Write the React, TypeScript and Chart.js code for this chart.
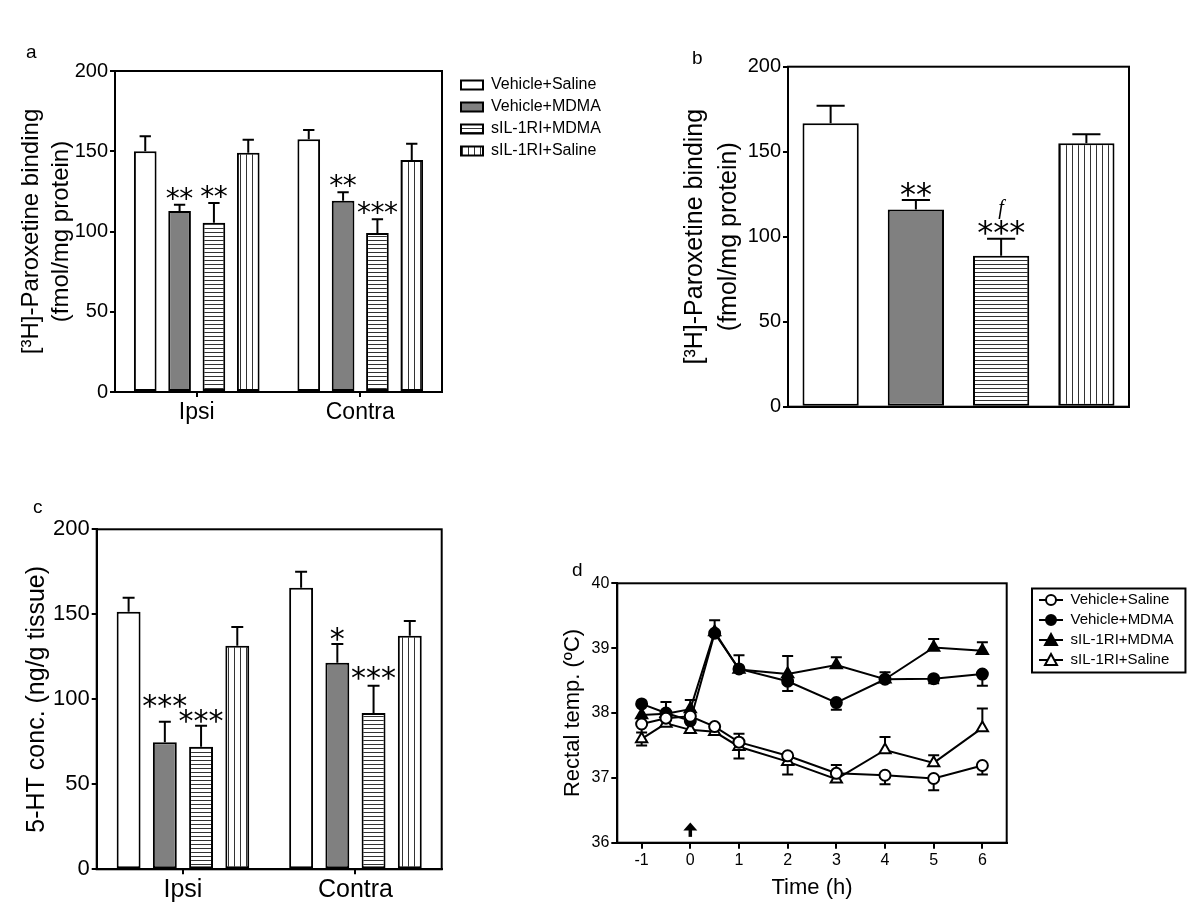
import React, { useEffect, useRef } from 'react';
import { Chart, registerables } from 'chart.js';

Chart.register(...registerables);

const SANS = "'Liberation Sans', Arial, Helvetica, sans-serif";
const STAR_FONT = "'DejaVu Sans', sans-serif";

// ---------------- data ----------------
const groupLabels = ['Vehicle+Saline', 'Vehicle+MDMA', 'sIL-1RI+MDMA', 'sIL-1RI+Saline'];
const regionLabels = ['Ipsi', 'Contra'];

// panel a: [3H]-paroxetine binding by region
const aVehSal = [150, 157.4];
const aVehSalErr = [9.3, 5.8];
const aVehMdma = [112.8, 119.2];
const aVehMdmaErr = [3.9, 5.2];
const aSilMdma = [105.5, 99];
const aSilMdmaErr = [12.3, 8.6];
const aSilSal = [149, 144.5];
const aSilSalErr = [8.2, 10.2];
const aVehMdmaSig = ['**', '**'];
const aSilMdmaSig = ['**', '***'];

// panel b: [3H]-paroxetine binding, per group
const bValues = [166.7, 116, 88.8, 155];
const bErr = [10.3, 5.6, 10, 5.2];
const bSig = ['', '**', '***', ''];
const bSig2 = ['', '', 'f', ''];

// panel c: 5-HT concentration
const cVehSal = [151.5, 165.6];
const cVehSalErr = [8.3, 9.4];
const cVehMdma = [74.7, 121.5];
const cVehMdmaErr = [12.1, 11];
const cSilMdma = [72.1, 92];
const cSilMdmaErr = [12.4, 16];
const cSilSal = [131.5, 137.4];
const cSilSalErr = [11, 8.6];
const cVehMdmaSig = ['***', '*'];
const cSilMdmaSig = ['***', '***'];

// panel d: rectal temperature (signed error: + drawn up, - drawn down)
const timeH = [-1, -0.5, 0, 0.5, 1, 2, 3, 4, 5, 6];
const timeTicks = [-1, 0, 1, 2, 3, 4, 5, 6];
const dosingTime = 0;
const dVehSal = [37.83, 37.92, 37.95, 37.79, 37.55, 37.34, 37.07, 37.04, 36.99, 37.19];
const dVehSalErr = [-0.13, 0, 0, 0, 0.13, 0, 0.13, -0.14, -0.18, -0.14];
const dVehMdma = [38.14, 38.0, 37.88, 39.23, 38.68, 38.49, 38.16, 38.52, 38.53, 38.6];
const dVehMdmaErr = [0, 0, 0, 0, 0, -0.15, -0.11, 0, -0.07, -0.18];
const dSilMdma = [37.97, 37.99, 38.06, 39.25, 38.67, 38.6, 38.74, 38.52, 39.01, 38.96];
const dSilMdmaErr = [0, 0.18, 0.14, 0.18, 0.22, 0.28, 0.12, 0.11, 0.13, 0.13];
const dSilSal = [37.6, 37.84, 37.74, 37.71, 37.48, 37.25, 36.98, 37.43, 37.23, 37.77];
const dSilSalErr = [-0.1, 0, 0, 0, -0.18, -0.2, 0, 0.2, 0.12, 0.3];

// ---------------- helpers ----------------
function makePattern(kind: 'h' | 'v', period: number) {
  const c = document.createElement('canvas');
  const g = c.getContext('2d')!;
  if (kind === 'h') {
    c.width = 8; c.height = period;
    g.fillStyle = '#fff'; g.fillRect(0, 0, 8, period);
    g.fillStyle = '#333'; g.fillRect(0, 0, 8, 1);
  } else {
    c.width = period; c.height = 8;
    g.fillStyle = '#fff'; g.fillRect(0, 0, period, 8);
    g.fillStyle = '#333'; g.fillRect(0, 0, 1, 8);
  }
  return g.createPattern(c, 'repeat')!;
}

const framePlugin = {
  id: 'frame',
  afterDraw(chart: any) {
    const { ctx, chartArea } = chart;
    const { left, top, right, bottom } = chartArea;
    ctx.save();
    ctx.strokeStyle = '#000';
    ctx.lineWidth = 2;
    ctx.strokeRect(left, top, right - left, bottom - top);
    ctx.restore();
  },
};

// moves the legend box after layout, and widens its clip area so no label is cut
function legendShift(dx: number, dy: number) {
  return {
    id: 'legendShift',
    afterLayout(chart: any) {
      const lg = chart.legend;
      if (!lg) return;
      lg.left += dx; lg.right += dx + 120; lg.width += 120;
      lg.top += dy; lg.bottom += dy;
    },
  };
}

function drawStars(ctx: CanvasRenderingContext2D, text: string, cx: number, cy: number, size: number, gap: number) {
  ctx.save();
  ctx.fillStyle = '#000';
  ctx.font = `${size}px ${STAR_FONT}`;
  ctx.textAlign = 'center';
  ctx.textBaseline = 'middle';
  const n = text.length;
  for (let k = 0; k < n; k++) {
    ctx.fillText(text[k], cx + (k - (n - 1) / 2) * gap, cy + size * 0.2);
  }
  ctx.restore();
}

function barErrorPlugin(starSize: number, starGap: number) {
  return {
    id: 'barErrors',
    afterDatasetsDraw(chart: any) {
      const { ctx } = chart;
      const y = chart.scales.y;
      chart.data.datasets.forEach((ds: any, di: number) => {
        const meta = chart.getDatasetMeta(di);
        meta.data.forEach((bar: any, i: number) => {
          const v = ds.data[i];
          const e = ds.errors ? ds.errors[i] : 0;
          const yEnd = y.getPixelForValue(v + e);
          const w = bar.width * 0.5;
          ctx.save();
          ctx.strokeStyle = '#000';
          ctx.lineWidth = 2;
          ctx.beginPath();
          ctx.moveTo(bar.x, bar.y);
          ctx.lineTo(bar.x, yEnd);
          ctx.moveTo(bar.x - w / 2, yEnd);
          ctx.lineTo(bar.x + w / 2, yEnd);
          ctx.stroke();
          ctx.restore();
          const sig = ds.sig ? ds.sig[i] : '';
          const lift = ds.sigLift ? ds.sigLift[i] : 10;
          if (sig) drawStars(ctx, sig, bar.x, yEnd - lift, starSize, starGap);
          const sig2 = ds.sig2 ? ds.sig2[i] : '';
          if (sig2) {
            ctx.save();
            ctx.fillStyle = '#000';
            ctx.font = `italic 20px 'Liberation Serif', serif`;
            ctx.textAlign = 'center';
            ctx.textBaseline = 'middle';
            ctx.fillText(sig2, bar.x, yEnd - 30);
            ctx.restore();
          }
        });
      });
    },
  };
}

function yBarScale(width: number, tickSize: number, title: string | string[], titleSize: number, lineHeight: number, titlePad: number) {
  return {
    min: 0,
    max: 200,
    ticks: { stepSize: 50, color: '#000', font: { family: SANS, size: tickSize }, padding: 2 },
    grid: { drawOnChartArea: false, drawTicks: true, tickLength: 5, color: '#000', lineWidth: 2 },
    border: { display: true, color: '#000', width: 2 },
    title: {
      display: true, text: title, color: '#000',
      font: { family: SANS, size: titleSize, lineHeight },
      padding: { top: titlePad, bottom: 0 },
    },
    afterFit: (s: any) => { s.width = width; },
  };
}

function xCatScale(height: number, tickSize: number, showTicks: boolean, pad: number) {
  return {
    offset: true,
    ticks: { display: showTicks, color: '#000', font: { family: SANS, size: tickSize }, padding: pad },
    grid: { offset: false, drawOnChartArea: false, drawTicks: showTicks, tickLength: 5, color: '#000', lineWidth: 2 },
    border: { display: true, color: '#000', width: 2 },
    afterFit: (s: any) => { s.height = height; },
  };
}

function groupDatasets(vals: number[][], errs: number[][], sigs: (string[] | null)[], lifts: (number[] | null)[], fills: any[]) {
  return vals.map((v, k) => ({
    label: groupLabels[k],
    data: v,
    errors: errs[k],
    sig: sigs[k],
    sigLift: lifts[k],
    backgroundColor: fills[k],
    borderColor: '#000',
    borderWidth: 2,
    borderSkipped: false,
    categoryPercentage: 0.84,
    barPercentage: 0.66,
  }));
}

// ---------------- panels ----------------
function buildA(canvas: HTMLCanvasElement) {
  const fills = ['#ffffff', '#808080', makePattern('h', 4), makePattern('v', 6)];
  return new Chart(canvas, {
    type: 'bar',
    data: {
      labels: regionLabels,
      datasets: groupDatasets(
        [aVehSal, aVehMdma, aSilMdma, aSilSal],
        [aVehSalErr, aVehMdmaErr, aSilMdmaErr, aSilSalErr],
        [null, aVehMdmaSig, aSilMdmaSig, null],
        [null, null, null, null],
        fills,
      ) as any,
    },
    options: {
      animation: false,
      responsive: false,
      layout: { padding: { top: 31, right: 58, bottom: 0, left: 0 } },
      scales: {
        x: xCatScale(48, 23, true, 2) as any,
        y: yBarScale(115, 20, ['[³H]-Paroxetine binding', '(fmol/mg protein)'], 24, 1.25, 16) as any,
      },
      plugins: {
        legend: {
          position: 'right', align: 'start', fullSize: false, maxWidth: 140,
          labels: { boxWidth: 22, boxHeight: 9, padding: 6, color: '#000', font: { family: SANS, size: 16 } },
        },
        tooltip: { enabled: false },
      },
    } as any,
    plugins: [framePlugin, barErrorPlugin(28, 13.5), legendShift(13, 0)],
  });
}

function buildB(canvas: HTMLCanvasElement) {
  const fills = ['#ffffff', '#808080', makePattern('h', 4), makePattern('v', 6)];
  return new Chart(canvas, {
    type: 'bar',
    data: {
      labels: groupLabels,
      datasets: [{
        label: '[³H]-Paroxetine binding',
        data: bValues,
        errors: bErr,
        sig: bSig,
        sig2: bSig2,
        backgroundColor: fills,
        borderColor: '#000',
        borderWidth: 2,
        borderSkipped: false,
        categoryPercentage: 1,
        barPercentage: 0.66,
      } as any],
    },
    options: {
      animation: false,
      responsive: false,
      layout: { padding: { top: 26.7, right: 71, bottom: 0, left: 0 } },
      scales: {
        x: xCatScale(33.3, 20, false, 0) as any,
        y: yBarScale(148, 20, ['[³H]-Paroxetine binding', '(fmol/mg protein)'], 25, 1.36, 38) as any,
      },
      plugins: { legend: { display: false }, tooltip: { enabled: false } },
    } as any,
    plugins: [framePlugin, barErrorPlugin(32, 16)],
  });
}

function buildC(canvas: HTMLCanvasElement) {
  const fills = ['#ffffff', '#808080', makePattern('h', 4), makePattern('v', 6)];
  return new Chart(canvas, {
    type: 'bar',
    data: {
      labels: regionLabels,
      datasets: groupDatasets(
        [cVehSal, cVehMdma, cSilMdma, cSilSal],
        [cVehSalErr, cVehMdmaErr, cSilMdmaErr, cSilSalErr],
        [null, cVehMdmaSig, cSilMdmaSig, null],
        [null, [20, 9], [8, 11], null],
        fills,
      ) as any,
    },
    options: {
      animation: false,
      responsive: false,
      layout: { padding: { top: 29.3, right: 18.3, bottom: 0, left: 0 } },
      scales: {
        x: xCatScale(54.7, 25, true, 1) as any,
        y: yBarScale(96.7, 22, '5-HT conc. (ng/g tissue)', 25, 1.2, 22) as any,
      },
      plugins: { legend: { display: false }, tooltip: { enabled: false } },
    } as any,
    plugins: [framePlugin, barErrorPlugin(30, 15)],
  });
}

function legendImage(style: string, filled: boolean) {
  const c = document.createElement('canvas');
  c.width = 24; c.height = 16;
  const g = c.getContext('2d')!;
  g.strokeStyle = '#000';
  g.lineWidth = 2;
  g.beginPath(); g.moveTo(0, 8); g.lineTo(24, 8); g.stroke();
  g.fillStyle = filled ? '#000' : '#fff';
  g.beginPath();
  if (style === 'circle') {
    g.arc(12, 8, 5, 0, Math.PI * 2);
  } else {
    g.moveTo(12, 2); g.lineTo(18, 13); g.lineTo(6, 13); g.closePath();
  }
  g.fill(); g.stroke();
  return c;
}

function buildD(canvas: HTMLCanvasElement) {
  const series = [
    { v: dVehSal, e: dVehSalErr, style: 'circle', filled: false, r: 5.5 },
    { v: dVehMdma, e: dVehMdmaErr, style: 'circle', filled: true, r: 5.5 },
    { v: dSilMdma, e: dSilMdmaErr, style: 'triangle', filled: true, r: 6.5 },
    { v: dSilSal, e: dSilSalErr, style: 'triangle', filled: false, r: 6.5 },
  ];
  const imgs = series.map((s) => legendImage(s.style, s.filled));
  const datasets = series.map((s, k) => ({
    label: groupLabels[k],
    data: timeH.map((t, i) => ({ x: t, y: s.v[i] })),
    errors: s.e,
    borderColor: '#000',
    borderWidth: 2,
    fill: false,
    tension: 0,
    pointStyle: s.style,
    pointRadius: s.r,
    pointBackgroundColor: s.filled ? '#000' : '#fff',
    pointBorderColor: '#000',
    pointBorderWidth: 2,
  }));

  const pointErrors = {
    id: 'pointErrors',
    beforeDatasetsDraw(chart: any) {
      const { ctx } = chart;
      const y = chart.scales.y;
      chart.data.datasets.forEach((ds: any, di: number) => {
        const meta = chart.getDatasetMeta(di);
        meta.data.forEach((pt: any, i: number) => {
          const e = ds.errors[i];
          if (!e) return;
          const yEnd = y.getPixelForValue(ds.data[i].y + e);
          ctx.save();
          ctx.strokeStyle = '#000';
          ctx.lineWidth = 2;
          ctx.beginPath();
          ctx.moveTo(pt.x, pt.y); ctx.lineTo(pt.x, yEnd);
          ctx.moveTo(pt.x - 5.5, yEnd); ctx.lineTo(pt.x + 5.5, yEnd);
          ctx.stroke();
          ctx.restore();
        });
      });
    },
    afterDraw(chart: any) {
      const { ctx } = chart;
      const x = chart.scales.x.getPixelForValue(dosingTime);
      const y0 = chart.scales.y.getPixelForValue(36.09);
      const y1 = chart.scales.y.getPixelForValue(36.31);
      ctx.save();
      ctx.strokeStyle = '#000';
      ctx.fillStyle = '#000';
      ctx.lineWidth = 3.5;
      ctx.beginPath(); ctx.moveTo(x, y0); ctx.lineTo(x, y1 + 5); ctx.stroke();
      ctx.beginPath(); ctx.moveTo(x, y1); ctx.lineTo(x + 7, y1 + 8); ctx.lineTo(x - 7, y1 + 8); ctx.closePath(); ctx.fill();
      ctx.restore();
      // legend frame
      const lg = chart.legend;
      if (lg && lg.legendHitBoxes && lg.legendHitBoxes.length) {
        const hb = lg.legendHitBoxes;
        const l = Math.min(...hb.map((h: any) => h.left));
        const r = Math.max(...hb.map((h: any) => h.left + h.width));
        const t = Math.min(...hb.map((h: any) => h.top));
        const b = Math.max(...hb.map((h: any) => h.top + h.height));
        ctx.save();
        ctx.strokeStyle = '#000';
        ctx.lineWidth = 2;
        ctx.strokeRect(l - 7, t - 4, r - l + 19, b - t + 9);
        ctx.restore();
      }
    },
  };

  return new Chart(canvas, {
    type: 'line',
    data: { datasets: datasets as any },
    options: {
      animation: false,
      responsive: false,
      layout: { padding: { top: 28.3, right: 53.3, bottom: 0, left: 0 } },
      scales: {
        x: {
          type: 'linear', min: -1.5, max: 6.5,
          afterBuildTicks: (s: any) => { s.ticks = timeTicks.map((v) => ({ value: v })); },
          ticks: { color: '#000', font: { family: SANS, size: 16 }, padding: 2 },
          grid: { drawOnChartArea: false, drawTicks: true, tickLength: 6, color: '#000', lineWidth: 2 },
          border: { display: true, color: '#000', width: 2 },
          title: {
            display: true, text: 'Time (h)', color: '#000',
            font: { family: SANS, size: 22, lineHeight: 1.2 },
            padding: { top: 0, bottom: 22.5 },
          },
          afterFit: (s: any) => { s.height = 81.3; },
        },
        y: {
          min: 36, max: 40,
          ticks: { stepSize: 1, color: '#000', font: { family: SANS, size: 16 }, padding: 2 },
          grid: { drawOnChartArea: false, drawTicks: true, tickLength: 6, color: '#000', lineWidth: 2 },
          border: { display: true, color: '#000', width: 2 },
          title: {
            display: true, text: 'Rectal temp. (ºC)', color: '#000',
            font: { family: SANS, size: 22, lineHeight: 1.2 },
            padding: { top: 19.8, bottom: 0 },
          },
          afterFit: (s: any) => { s.width = 77.3; },
        },
      },
      plugins: {
        legend: {
          position: 'right', align: 'start', fullSize: false, maxWidth: 140,
          labels: {
            usePointStyle: true, pointStyleWidth: 24, padding: 5, color: '#000',
            font: { family: SANS, size: 15 },
            generateLabels: (chart: any) => chart.data.datasets.map((ds: any, i: number) => ({
              text: ds.label, pointStyle: imgs[i], fillStyle: '#000', strokeStyle: '#000',
              lineWidth: 0, hidden: false, datasetIndex: i, fontColor: '#000',
            })),
          },
        },
        tooltip: { enabled: false },
      },
    } as any,
    plugins: [framePlugin, pointErrors, legendShift(27.3, 4.2)],
  });
}

function Panel({ build, left, top, width, height }: { build: (c: HTMLCanvasElement) => Chart; left: number; top: number; width: number; height: number }) {
  const ref = useRef<HTMLCanvasElement>(null);
  useEffect(() => {
    if (!ref.current) return;
    const chart = build(ref.current);
    return () => chart.destroy();
  }, [build]);
  return (
    <canvas
      ref={ref}
      width={width}
      height={height}
      style={{ position: 'absolute', left, top, width, height }}
    />
  );
}

const letterStyle = (left: number, top: number): React.CSSProperties => ({
  position: 'absolute', left, top, fontFamily: SANS, fontSize: 19, lineHeight: '19px', color: '#000',
});

export default function App() {
  return (
    <div style={{ position: 'absolute', left: 0, top: 0, width: 1200, height: 924, background: '#fff', overflow: 'hidden' }}>
      <Panel build={buildA} left={0} top={40} width={640} height={400} />
      <Panel build={buildB} left={640} top={40} width={560} height={400} />
      <Panel build={buildC} left={0} top={500} width={460} height={424} />
      <Panel build={buildD} left={540} top={555} width={660} height={369} />
      <div style={letterStyle(26, 42)}>a</div>
      <div style={letterStyle(692, 48)}>b</div>
      <div style={letterStyle(33, 497)}>c</div>
      <div style={letterStyle(572, 560)}>d</div>
    </div>
  );
}
